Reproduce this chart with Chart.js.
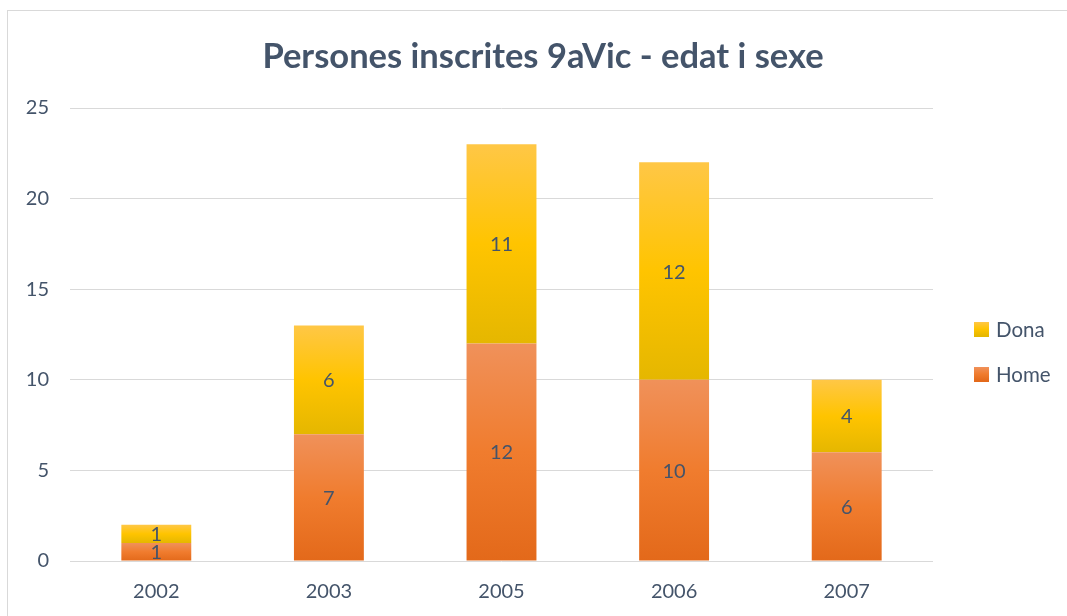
<!DOCTYPE html>
<html>
<head>
<meta charset="utf-8">
<script src="https://cdn.jsdelivr.net/npm/chart.js@4/dist/chart.umd.min.js"></script>
<style>
  html, body { margin: 0; padding: 0; background: #fff; }
  #wrap { width: 1067px; height: 616px; position: relative; }
</style>
</head>
<body>
<div id="wrap"><canvas id="chart"></canvas></div>
<script>
// Dades del gràfic
const categories = ['2002', '2003', '2005', '2006', '2007'];
const home = [1, 7, 12, 10, 6];
const dona = [1, 6, 11, 12, 4];
const seriesNames = ['Home', 'Dona'];
const yTicks = [0, 5, 10, 15, 20, 25];
const titleText = 'Persones inscrites 9aVic - edat i sexe';

const textColor = '#44546A';
const fontFamily = 'Lato, "Open Sans", sans-serif';

// gradient vertical per cada segment de barra (com l'Excel)
const gradients = {
  Home: ['#F0915A', '#F07C2E', '#E3691A'],
  Dona: ['#FFC746', '#FFC400', '#E5B700']
};

function segmentFill(context) {
  const chart = context.chart;
  const yScale = chart.scales.y;
  if (!yScale || !chart.chartArea) return gradients[context.dataset.label][1];
  const di = context.datasetIndex;
  const i = context.dataIndex;
  let start = 0;
  for (let d = 0; d < di; d++) start += chart.data.datasets[d].data[i];
  const end = start + chart.data.datasets[di].data[i];
  const top = yScale.getPixelForValue(end);
  const bottom = yScale.getPixelForValue(start);
  if (!isFinite(top) || !isFinite(bottom) || top === bottom) return gradients[context.dataset.label][1];
  const c = gradients[context.dataset.label];
  const g = chart.ctx.createLinearGradient(0, top, 0, bottom);
  g.addColorStop(0, c[0]);
  g.addColorStop(0.5, c[1]);
  g.addColorStop(1, c[2]);
  return g;
}

// marc i títol del gràfic
const framePlugin = {
  id: 'frame',
  beforeDraw(chart) {
    const ctx = chart.ctx;
    ctx.save();
    ctx.strokeStyle = '#D9D9D9';
    ctx.lineWidth = 1;
    ctx.strokeRect(7.5, 10.5, 1100, 700);
    ctx.fillStyle = textColor;
    ctx.font = 'bold 34.5px ' + fontFamily;
    ctx.textAlign = 'center';
    ctx.textBaseline = 'alphabetic';
    ctx.fillText(titleText, 543, 68);
    ctx.restore();
  }
};

// etiquetes de valor al centre de cada segment
const labelsPlugin = {
  id: 'segLabels',
  afterDatasetsDraw(chart) {
    const ctx = chart.ctx;
    ctx.save();
    ctx.fillStyle = textColor;
    ctx.font = '20px ' + fontFamily;
    ctx.textAlign = 'center';
    ctx.textBaseline = 'middle';
    chart.data.datasets.forEach((ds, di) => {
      chart.getDatasetMeta(di).data.forEach((bar, i) => {
        const p = bar.getProps(['x', 'y', 'base'], true);
        ctx.fillText(String(ds.data[i]), p.x, (p.y + p.base) / 2 + 1);
      });
    });
    ctx.restore();
  }
};

// llegenda a la dreta
const legendPlugin = {
  id: 'sideLegend',
  afterDraw(chart) {
    const ctx = chart.ctx;
    const items = chart.data.datasets.slice().reverse();
    ctx.save();
    ctx.font = '20.5px ' + fontFamily;
    ctx.textBaseline = 'middle';
    items.forEach((ds, k) => {
      const y = 329 + k * 45;
      const c = gradients[ds.label];
      const g = ctx.createLinearGradient(0, y - 7, 0, y + 7);
      g.addColorStop(0, c[0]);
      g.addColorStop(0.5, c[1]);
      g.addColorStop(1, c[2]);
      ctx.fillStyle = g;
      ctx.fillRect(974, y - 7, 15, 15);
      ctx.fillStyle = textColor;
      ctx.fillText(ds.label, 996, y + 1);
    });
    ctx.restore();
  }
};

const ctx = document.getElementById('chart').getContext('2d');
const chart = new Chart(ctx, {
  type: 'bar',
  data: {
    labels: categories,
    datasets: [
      { label: seriesNames[0], data: home, backgroundColor: segmentFill, borderWidth: 0 },
      { label: seriesNames[1], data: dona, backgroundColor: segmentFill, borderWidth: 0 }
    ]
  },
  options: {
    responsive: true,
    maintainAspectRatio: false,
    animation: false,
    categoryPercentage: 1,
    barPercentage: 0.405,
    layout: { padding: { left: 10, right: 134, top: 108, bottom: 0 } },
    plugins: {
      legend: { display: false },
      tooltip: { enabled: false },
      title: { display: false }
    },
    scales: {
      x: {
        stacked: true,
        grid: { display: false, drawTicks: false },
        border: { display: false },
        ticks: { color: textColor, font: { family: fontFamily, size: 20 }, padding: 19 },
        afterFit(scale) { scale.height = 55; }
      },
      y: {
        stacked: true,
        min: 0,
        max: 25,
        afterBuildTicks(scale) { scale.ticks = yTicks.map(v => ({ value: v })); },
        grid: { color: '#D9D9D9', lineWidth: 1, drawTicks: false },
        border: { display: false },
        ticks: { color: textColor, font: { family: fontFamily, size: 20 }, padding: 21 },
        afterFit(scale) { scale.width = 60; }
      }
    }
  },
  plugins: [framePlugin, labelsPlugin, legendPlugin]
});
</script>
</body>
</html>
